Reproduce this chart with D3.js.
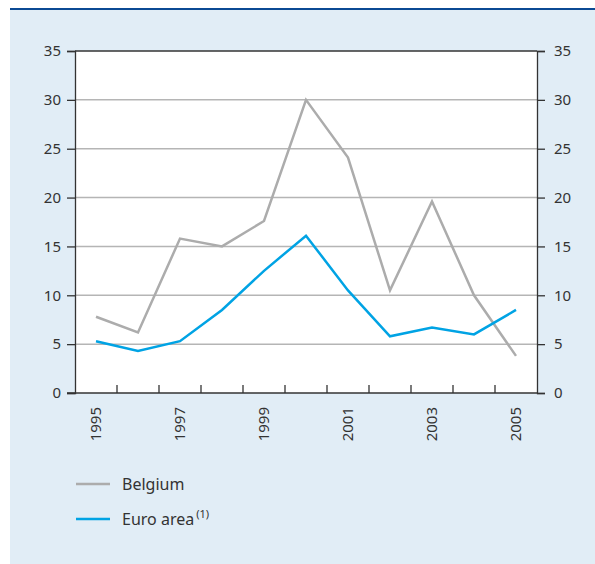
<!DOCTYPE html>
<meta charset="utf-8">
<style>
body { margin: 0; background: #fff; }
text { font-family: "Noto Sans", "Open Sans", sans-serif; fill: #333; }
</style>
<svg width="595" height="564"></svg>
<script src="https://d3js.org/d3.v7.min.js"></script>
<script>
// data
var years = ["1995","1996","1997","1998","1999","2000","2001","2002","2003","2004","2005"];
var belgium = [7.8, 6.2, 15.8, 15.0, 17.6, 30.0, 24.1, 10.5, 19.6, 10.0, 3.8];
var euroArea = [5.3, 4.3, 5.3, 8.5, 12.5, 16.1, 10.5, 5.8, 6.7, 6.0, 8.5];
var yTicks = [0, 5, 10, 15, 20, 25, 30, 35];
var yearLabels = ["1995","1997","1999","2001","2003","2005"];

var svg = d3.select("svg"),
    margin = {top: 51, right: 58, bottom: 171, left: 75},
    width = +svg.attr("width") - margin.left - margin.right,
    height = +svg.attr("height") - margin.top - margin.bottom;

// panel background and top rule
svg.append("rect").attr("x", 10).attr("y", 9).attr("width", 585).attr("height", 555).attr("fill", "#e1edf6");
svg.append("rect").attr("x", 10).attr("y", 8).attr("width", 585).attr("height", 2).attr("fill", "#0b4a94");

var x = d3.scaleBand().domain(years).range([0, width]);
var y = d3.scaleLinear().domain([0, 35]).range([height, 0]);

var g = svg.append("g").attr("transform", "translate(" + margin.left + "," + margin.top + ")");

g.append("rect").attr("width", width).attr("height", height).attr("fill", "#fff");

// gridlines
g.selectAll(".grid").data(yTicks.filter(function(d) { return d > 0 && d < 35; }))
  .enter().append("line")
    .attr("x1", 0).attr("x2", width)
    .attr("y1", function(d) { return y(d); }).attr("y2", function(d) { return y(d); })
    .attr("stroke", "#b5b5b5").attr("stroke-width", 1.5);

// top frame line
g.append("line").attr("x1", 0).attr("x2", width).attr("y1", 0).attr("y2", 0)
  .attr("stroke", "#333").attr("stroke-width", 1.3);

var yAxisL = d3.axisLeft(y).tickValues(yTicks).tickSize(8).tickPadding(6);
var yAxisR = d3.axisRight(y).tickValues(yTicks).tickSize(8).tickPadding(9);

function styleAxis(sel) {
  sel.select(".domain").attr("stroke", "#333").attr("stroke-width", 1.3);
  sel.selectAll(".tick line").attr("stroke", "#333").attr("stroke-width", 1.3);
  sel.selectAll("text").attr("font-size", 15).attr("fill", "#333")
    .style("font-family", '"Noto Sans", "Open Sans", sans-serif');
}

g.append("g").call(yAxisL).call(styleAxis);
g.append("g").attr("transform", "translate(" + width + ",0)").call(yAxisR).call(styleAxis);

// x axis: baseline with inward ticks at band boundaries
var bounds = years.slice(1);
var xa = g.append("g").attr("transform", "translate(0," + height + ")");
xa.append("line").attr("x1", -8).attr("x2", width).attr("stroke", "#333").attr("stroke-width", 1.3);
xa.selectAll(".tk").data(bounds).enter().append("line")
    .attr("x1", function(d) { return x(d); }).attr("x2", function(d) { return x(d); })
    .attr("y1", 0).attr("y2", -8)
    .attr("stroke", "#333").attr("stroke-width", 1.3);
xa.selectAll(".lbl").data(yearLabels).enter().append("text")
    .attr("transform", function(d) {
      return "translate(" + (x(d) + x.bandwidth() / 2 + 5) + ",14) rotate(-90)";
    })
    .attr("text-anchor", "end")
    .attr("font-size", 15)
    .text(function(d) { return d; });

var line = d3.line()
    .x(function(d, i) { return x(years[i]) + x.bandwidth() / 2; })
    .y(function(d) { return y(d); });

g.append("path").datum(belgium).attr("d", line)
  .attr("fill", "none").attr("stroke", "#acacac").attr("stroke-width", 2.5).attr("stroke-linejoin", "miter");
g.append("path").datum(euroArea).attr("d", line)
  .attr("fill", "none").attr("stroke", "#00a3e4").attr("stroke-width", 2.5).attr("stroke-linejoin", "miter");

// legend
var legend = [
  {name: "Belgium", color: "#acacac", y: 484},
  {name: "Euro area", color: "#00a3e4", y: 519, sup: "(1)"}
];
var lg = svg.selectAll(".legend").data(legend).enter().append("g")
    .attr("transform", function(d) { return "translate(76," + d.y + ")"; });
lg.append("line").attr("x1", 0).attr("x2", 34).attr("stroke", function(d) { return d.color; }).attr("stroke-width", 2.5);
var lt = lg.append("text").attr("x", 46).attr("y", 6).attr("font-size", 16);
lt.append("tspan").text(function(d) { return d.name; });
lt.filter(function(d) { return d.sup; }).append("tspan")
    .attr("dx", 2).attr("dy", -7).attr("font-size", 11)
    .text(function(d) { return d.sup; });
</script>
